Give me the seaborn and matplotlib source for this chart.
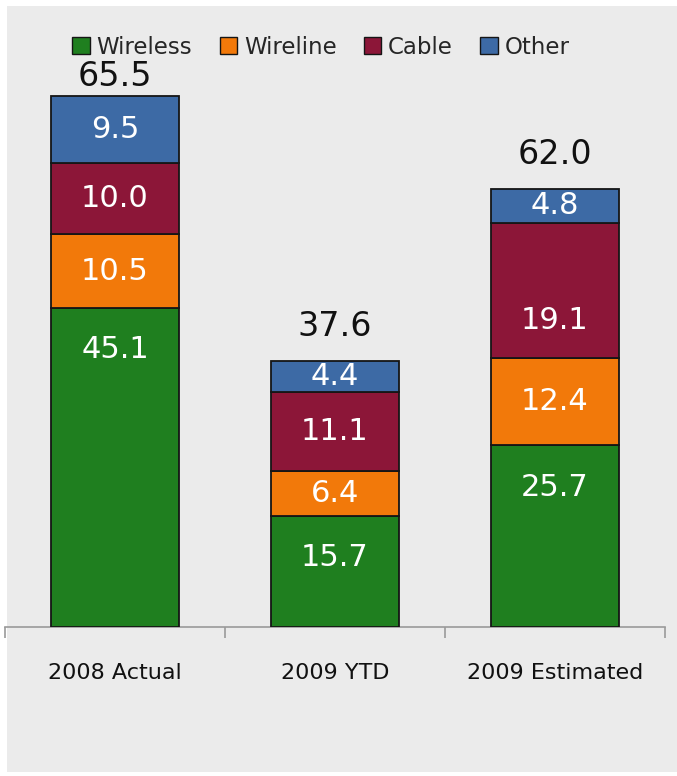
import matplotlib
matplotlib.use("Agg")
import matplotlib.pyplot as plt
from matplotlib.patches import Patch, Rectangle
import seaborn as sns
import numpy as np
import pandas as pd

# ---- data ----
categories = ["2008 Actual", "2009 YTD", "2009 Estimated"]
series = ["Wireless", "Wireline", "Cable", "Other"]
wireless = [45.1, 15.7, 25.7]
wireline = [10.5, 6.4, 12.4]
cable = [10.0, 11.1, 19.1]
other = [9.5, 4.4, 4.8]
total_labels = ["65.5", "37.6", "62.0"]

colors = {"Wireless": "#1f7f1f", "Wireline": "#f2790a",
          "Cable": "#8c1638", "Other": "#3d6aa5"}
values = {"Wireless": wireless, "Wireline": wireline, "Cable": cable, "Other": other}

sns.set_theme(style="white")
plt.rcParams["font.family"] = ["DejaVu Sans"]

W, H = 677, 776
fig = plt.figure(figsize=(W / 100, H / 100), dpi=100, facecolor="white")
fig.patches.append(Rectangle((7 / W, 4 / H), 1 - 7 / W, 1 - 10 / H,
                             transform=fig.transFigure, facecolor="#ebebeb",
                             edgecolor="none", zorder=-10))

base_px = 627
px_per_unit = 7.07
ymax = 80
top_px = base_px - ymax * px_per_unit
ax = fig.add_axes([5 / W, (H - base_px) / H, 660 / W, (base_px - top_px) / H])
ax.set_facecolor("none")

bottoms = np.zeros(len(categories))
for s in series:
    df = pd.DataFrame({"cat": categories, "val": values[s]})
    sns.barplot(data=df, x="cat", y="val", order=categories, bottom=bottoms,
                color=colors[s], saturation=1, width=0.58,
                edgecolor="#151515", linewidth=1.3, ax=ax, zorder=3)
    for i, v in enumerate(values[s]):
        if s == "Wireless":
            y = bottoms[i] + v - 5.9
        elif s == "Cable" and i == 2:
            y = bottoms[i] + v / 2 - 4.3
        else:
            y = bottoms[i] + v / 2
        ax.text(i, y, f"{v:.1f}", ha="center", va="center", color="white",
                fontsize=22, zorder=5)
    bottoms = bottoms + np.array(values[s])

gaps = [2, 13, 13]
for i, lab in enumerate(total_labels):
    ax.annotate(lab, (i, bottoms[i]), xytext=(0, gaps[i]), textcoords="offset points",
                ha="center", va="bottom", fontsize=24, color="#111111")

ax.set_xlim(-0.5, 2.5)
ax.set_ylim(0, ymax)
ax.set_xlabel("")
ax.set_ylabel("")
ax.set_yticks([])
for sp in ["left", "top", "right"]:
    ax.spines[sp].set_visible(False)
ax.spines["bottom"].set_color("#9a9a9a")
ax.spines["bottom"].set_linewidth(1.2)
ax.set_xticks([0, 1, 2])
ax.set_xticklabels(categories, fontsize=16, color="#111111")
ax.set_xticks([-0.5, 0.5, 1.5, 2.5], minor=True)
ax.tick_params(axis="x", which="major", length=0, pad=26)
ax.tick_params(axis="x", which="minor", length=8, width=1.2, color="#9a9a9a",
               direction="out", bottom=True)

handles = [Patch(facecolor=colors[s], edgecolor="#151515", linewidth=1.0, label=s)
           for s in series]
fig.legend(handles=handles, loc="center", bbox_to_anchor=(321 / W, 1 - 47 / H),
           ncol=4, frameon=False, fontsize=16.5, handlelength=0.75, handleheight=0.75,
           handletextpad=0.3, columnspacing=1.2)

fig.savefig("out.png", dpi=100, facecolor=fig.get_facecolor())
